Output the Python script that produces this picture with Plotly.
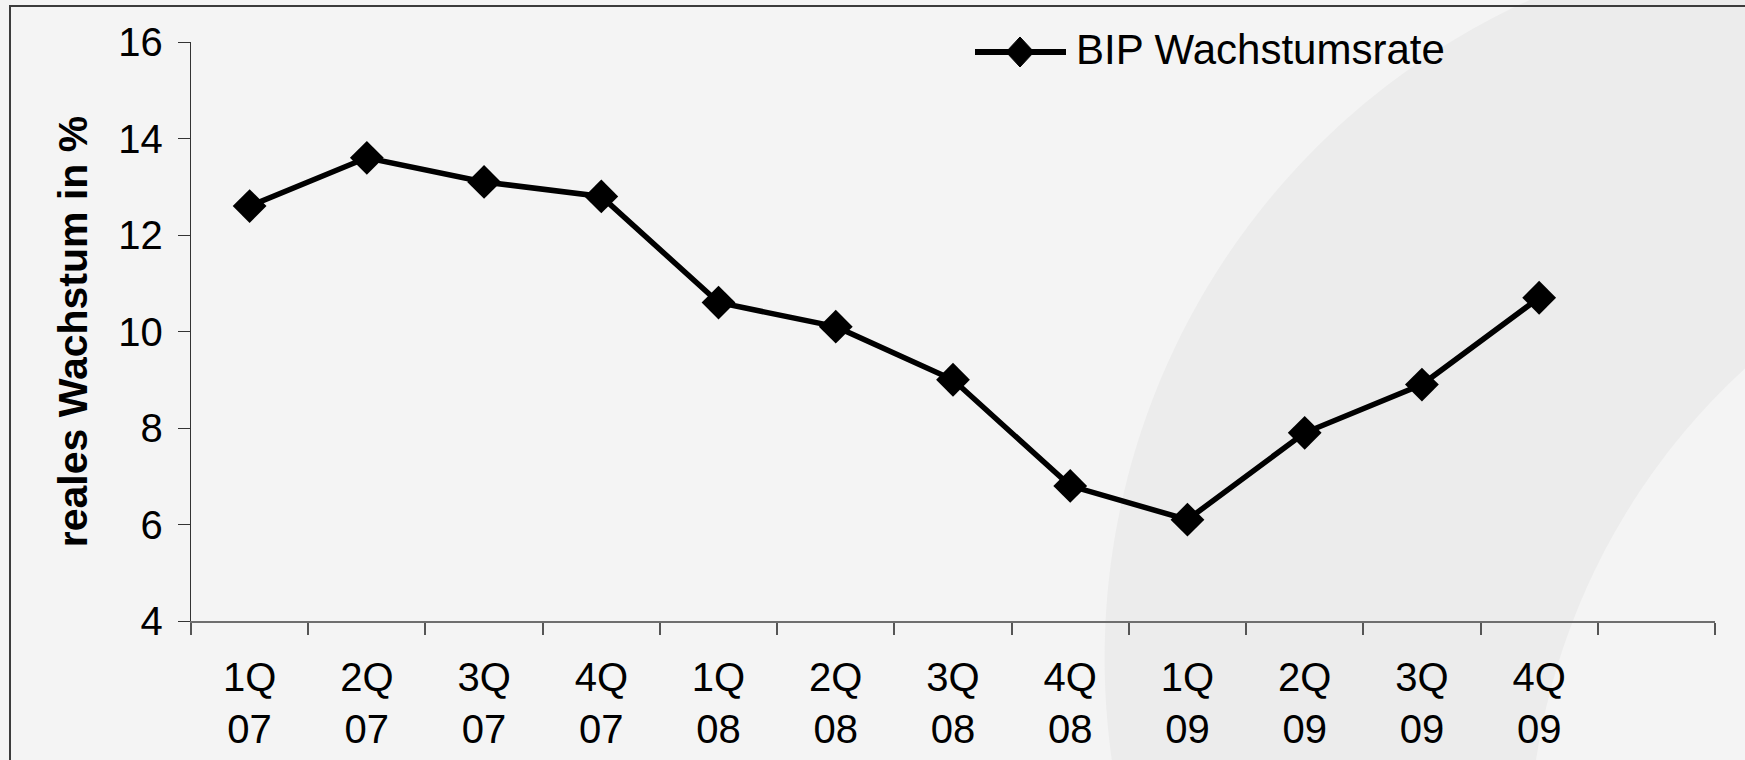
import numpy as np
import plotly.graph_objects as go

# ---------------- data ----------------
quarters = ["1Q", "2Q", "3Q", "4Q", "1Q", "2Q", "3Q", "4Q", "1Q", "2Q", "3Q", "4Q"]
years = ["07", "07", "07", "07", "08", "08", "08", "08", "09", "09", "09", "09"]
growth = [12.6, 13.6, 13.1, 12.8, 10.6, 10.1, 9.0, 6.8, 6.1, 7.9, 8.9, 10.7]
y_ticks = [4, 6, 8, 10, 12, 14, 16]
series_name = "BIP Wachstumsrate"
y_title = "reales Wachstum in %"

# ---------------- layout geometry (pixels) ----------------
W, H = 1745, 760
L, R, T, B = 191, 30, 42, 139
PW, PH = W - L - R, H - T - B
FONT = "Arial, Liberation Sans, sans-serif"


def px(x):
    return (x - L) / PW


def py(y):
    return (H - B - y) / PH


idx = list(range(len(quarters)))
ticktext = [f"{q}<br>{yy}" for q, yy in zip(quarters, years)]
n_slots = len(quarters) + 1
boundaries = [i - 0.5 for i in range(n_slots + 1)]

fig = go.Figure()
fig.add_trace(go.Scatter(
    x=idx, y=growth, mode="lines+markers", name=series_name,
    line=dict(color="black", width=5.5),
    marker=dict(symbol="diamond", size=26, color="black"),
    showlegend=False, cliponaxis=False,
))

# ---------------- decorative background band ----------------
def circle_pts(cx, cy, r, a0, a1, n=90):
    a = np.linspace(a0, a1, n)
    return [(cx + r * np.cos(t), cy + r * np.sin(t)) for t in a]

c1 = (1826.6, 658.2, 722.0)
c2 = (2194.5, 860.0, 666.0)
a_top = np.arctan2(0 - c1[1], -np.sqrt(c1[2]**2 - c1[1]**2))
a_bot = np.arctan2(H - c1[1], -np.sqrt(c1[2]**2 - (H - c1[1])**2))
if a_bot > a_top:
    a_bot -= 2 * np.pi
outer = circle_pts(*c1, a_top, a_bot)
b_bot = np.arctan2(H - c2[1], -np.sqrt(c2[2]**2 - (H - c2[1])**2))
b_right = np.arctan2(-np.sqrt(c2[2]**2 - (W - c2[0])**2), W - c2[0])
inner = circle_pts(*c2, b_bot, b_right)
pts = (outer + [(outer[-1][0], H + 5), (inner[0][0], H + 5)] + inner
       + [(W + 5, inner[-1][1]), (W + 5, -5), (outer[0][0], -5)])
path = "M " + " L ".join(f"{px(x):.5f},{py(y):.5f}" for x, y in pts) + " Z"

shapes = [
    dict(type="path", xref="paper", yref="paper", path=path,
         fillcolor="#ececec", line=dict(width=0), layer="below"),
    dict(type="rect", xref="paper", yref="paper",
         x0=px(10), y0=py(6), x1=px(W + 20), y1=py(H + 20),
         line=dict(color="#3c3c3c", width=2), fillcolor="rgba(0,0,0,0)", layer="below"),
    dict(type="line", xref="paper", yref="paper",
         x0=px(975), y0=py(52), x1=px(1066), y1=py(52),
         line=dict(color="black", width=6), layer="above"),
]
cxl, cyl, hw, hh = 1020, 52, 14, 15
shapes.append(dict(
    type="path", xref="paper", yref="paper", layer="above",
    path=(f"M {px(cxl - hw):.5f},{py(cyl):.5f} L {px(cxl):.5f},{py(cyl - hh):.5f} "
          f"L {px(cxl + hw):.5f},{py(cyl):.5f} L {px(cxl):.5f},{py(cyl + hh):.5f} Z"),
    fillcolor="black", line=dict(color="black", width=1),
))

annotations = [dict(
    text=series_name, xref="paper", yref="paper", x=px(1074), y=py(49),
    xanchor="left", yanchor="middle", showarrow=False,
    font=dict(family=FONT, size=42, color="black"),
)]

fig.update_layout(
    width=W, height=H,
    margin=dict(l=L, r=R, t=T, b=B, autoexpand=False),
    paper_bgcolor="#f4f4f4", plot_bgcolor="rgba(0,0,0,0)",
    font=dict(family=FONT, color="black"),
    shapes=shapes, annotations=annotations,
    showlegend=False,
)
fig.update_xaxes(
    range=[-0.5, n_slots - 0.5], tickmode="array", tickvals=idx, ticktext=ticktext,
    ticks="", showgrid=False, zeroline=False,
    showline=True, linecolor="#6e6e6e", linewidth=2,
    tickfont=dict(family=FONT, size=40, color="black"),
    ticklabelstandoff=20,
    minor=dict(tickmode="array", tickvals=boundaries, ticks="outside",
               ticklen=12, tickwidth=1.5, tickcolor="#555555", showgrid=False),
)
fig.update_yaxes(
    range=[4, 16], tickmode="array", tickvals=y_ticks,
    ticks="outside", ticklen=12, tickwidth=1.3, tickcolor="#333333",
    showgrid=False, zeroline=False,
    showline=True, linecolor="#333333", linewidth=1.3,
    tickfont=dict(family=FONT, size=40, color="black"),
    ticklabelstandoff=7,
    title=dict(text=f"<b>{y_title}</b>", font=dict(family=FONT, size=41, color="black"), standoff=17),
    automargin=False,
)

fig.write_html("out.html", config={"displayModeBar": False},
               post_script="document.body.style.margin='0px';")
